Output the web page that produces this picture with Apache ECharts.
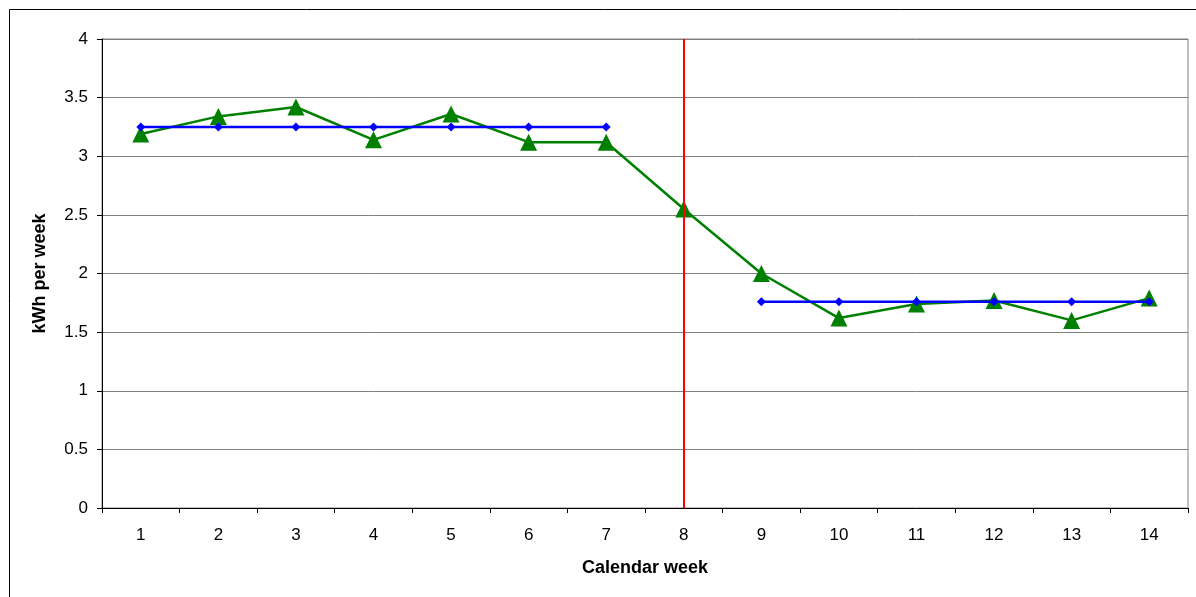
<!DOCTYPE html>
<html><head><meta charset="utf-8">
<script src="https://cdn.jsdelivr.net/npm/echarts@6/dist/echarts.min.js"></script>
<style>html,body{margin:0;padding:0;background:#fff}#c{width:1196px;height:597px}</style>
</head><body><div id="c"></div>
<script>
const weeks = ['1','2','3','4','5','6','7','8','9','10','11','12','13','14'];
const measured = [3.19,3.34,3.42,3.14,3.36,3.12,3.12,2.55,2.00,1.62,1.74,1.77,1.60,1.79];
const averageLevels = [3.25,3.25,3.25,3.25,3.25,3.25,3.25,null,1.76,1.76,1.76,1.76,1.76,1.76];
const changeWeek = '8';
const yTicks = {min:0, max:4, interval:0.5};

const chart = echarts.init(document.getElementById('c'));
chart.setOption({
  animation:false,
  backgroundColor:'#fff',
  textStyle:{fontFamily:'Liberation Sans, Arial, sans-serif'},
  graphic:[{type:'rect',shape:{x:9.5,y:9.5,width:1200,height:600},style:{fill:'none',stroke:'#000',lineWidth:1},z:-1}],
  grid:{left:102,right:8,top:39,bottom:89,show:true,borderColor:'#808080',borderWidth:1,backgroundColor:'transparent'},
  xAxis:{type:'category',data:weeks,boundaryGap:true,
    name:'Calendar week',nameLocation:'middle',nameGap:51,
    nameTextStyle:{fontWeight:'bold',fontSize:18,color:'#000'},
    axisLine:{lineStyle:{color:'#000',width:1}},
    axisTick:{show:true,alignWithLabel:false,length:5,lineStyle:{color:'#000'}},
    axisLabel:{color:'#000',fontSize:17,margin:19},
    splitLine:{show:false}},
  yAxis:{type:'value',min:yTicks.min,max:yTicks.max,interval:yTicks.interval,
    name:'kWh per week',nameLocation:'middle',nameGap:53,
    nameTextStyle:{fontWeight:'bold',fontSize:18,color:'#000'},
    axisLine:{show:true,lineStyle:{color:'#000'}},
    axisTick:{show:true,length:5,lineStyle:{color:'#000'}},
    axisLabel:{color:'#000',fontSize:17,margin:14},
    splitLine:{show:true,lineStyle:{color:'#808080',width:1}}},
  series:[
    {type:'line',data:averageLevels,connectNulls:false,symbol:'diamond',symbolSize:9,
     lineStyle:{color:'#0000ff',width:2.5},itemStyle:{color:'#0000ff'},z:3},
    {type:'line',data:measured,symbol:'triangle',symbolSize:17,
     lineStyle:{color:'#008000',width:2.5},itemStyle:{color:'#008000'},z:2,
     markLine:{silent:true,symbol:'none',label:{show:false},
       lineStyle:{color:'#ff0000',width:2,type:'solid'},data:[{xAxis:changeWeek}]}}
  ]
});
</script></body></html>
